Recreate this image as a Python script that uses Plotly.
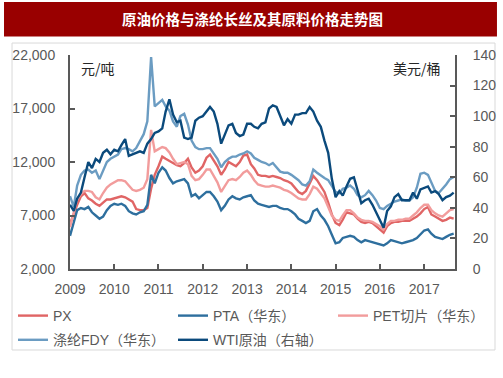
import plotly.graph_objects as go
import pandas as pd

months = pd.date_range("2009-01-01", "2017-09-01", freq="MS")

px_vals = [
    6200, 7200, 8000, 8800, 9100, 8600, 8400, 8100, 7900, 8200, 8500, 8500,
    8600, 8700, 8800, 8700, 8500, 8300, 7600, 7500, 7500, 7700, 9500, 10800,
    11600, 12500, 12300, 12100, 11900, 11700, 11600, 11900, 12300, 11500, 11000, 11200,
    11600, 12400, 12700, 12100, 11600, 10800, 11300, 12000, 11800, 11600, 12000, 12600,
    12700, 11800, 11400, 10800, 10700, 10700, 10600, 10700, 10600, 10500, 10300, 10200,
    10000, 9600, 9200, 9000, 9300, 10000, 10700, 10300, 9800, 9200, 8200, 7100,
    6300, 6100, 6600, 7300, 7200, 7100, 6700, 6400, 6300, 6400, 6300, 6000,
    5700, 5400, 6000, 6300, 6400, 6400, 6500, 6500, 6500, 6700, 6900, 7200,
    7600, 7800, 7100, 6900, 6700, 6500, 6600, 6800, 6700,
]
pta_vals = [
    5100, 6300, 7500, 7700, 7600, 7800, 7300, 7000, 6700, 6900, 7500, 7900,
    8100, 8000, 8100, 7900, 7400, 7200, 7100, 7300, 7400, 8000, 10800, 10000,
    11000, 11500, 11200, 10500, 10000, 10200, 10300, 10400, 10000, 8800, 9000, 8600,
    8900, 9200, 9200, 8800, 8300, 7500, 7900, 8500, 8800, 8600, 8500, 8700,
    8800, 8900, 8400, 8100, 8000, 7900, 7800, 7900, 7900, 7700, 7600, 7600,
    7400, 7100, 6700, 6500, 6300, 6500, 7400, 7600, 7000, 6600, 6000, 5200,
    4400, 4500, 4900, 5000, 5100, 5000, 4700, 4500, 4700, 4600, 4500, 4400,
    4300, 4200, 4400, 4700, 4600, 4500, 4400, 4500, 4600, 4700, 4900, 5200,
    5600, 5700, 5300, 5000, 4900, 4800, 5000, 5200, 5300,
]
pet_vals = [
    5900, 7300, 8500, 9000, 9300, 9300, 9200, 8700, 8500, 9100, 9600, 9900,
    10100, 10300, 10300, 10200, 9800, 9400, 9300, 9400, 9600, 10400, 15000, 13000,
    13200, 13400, 13300, 12900, 12300, 11800, 11900, 12000, 11800, 10700, 10300, 10400,
    10800, 11300, 11300, 10700, 10100, 9200, 9700, 10300, 10400, 10300, 10600, 11000,
    11200, 10800, 10300, 9900, 9800, 9700, 9700, 9800, 9700, 9600, 9400, 9300,
    9100, 8800, 8600, 8500, 8500, 9000, 9700, 9500, 9000, 8600, 7800, 7000,
    6600, 6500, 7000, 7500, 7500, 7200, 6800, 6600, 6500, 6500, 6400, 6200,
    6000, 5700, 6200, 6500, 6500, 6600, 6600, 6700, 6700, 7000, 7300, 7700,
    8000, 8000, 7500, 7200, 7000, 6900, 7200, 7500, 7600,
]
fdy_vals = [
    8800, 7800, 9800, 10800, 11200, 11300, 11000, 11200, 10400, 11200, 12000, 12300,
    12500, 12700, 13200, 13300, 13200, 13000, 13300, 14000, 14600, 15800, 21800, 17200,
    17500, 17800, 17200, 16800, 15800, 15300, 16300, 16500, 15500, 14000, 13400, 13200,
    13200, 13300, 13300, 12800, 12300, 11500, 12000, 12300, 12500, 12500, 12700, 12800,
    13000, 12800, 12400, 12200, 12000, 11900, 11700, 11900, 11500, 11100, 11000, 11000,
    10800, 10500, 10300, 9900, 9800, 10200, 11300, 11000, 10700, 10500, 10300, 9800,
    9200, 9100, 9500, 9600, 9800, 9500, 8900, 8700, 8900, 9300, 8900, 8400,
    7700, 7600, 7900, 8100, 8300, 8400, 8500, 8400, 8400, 8700, 9600, 10900,
    11000, 10800, 10100, 9300, 9100, 9500, 9900, 10400, 10600,
]
wti_vals = [
    42, 38, 46, 50, 60, 70, 66, 72, 70, 76, 78, 75,
    78, 77, 81, 85, 74, 75, 76, 77, 76, 82, 85, 89,
    90, 92, 103, 111, 101, 96, 97, 86, 85, 86, 97, 99,
    100, 103, 106, 103, 95, 82, 88, 94, 95, 89, 87, 88,
    95, 95, 93, 92, 95, 96, 105, 107, 106, 100, 94, 98,
    95, 101, 101, 102, 102, 106, 103, 97, 93, 84, 76, 59,
    47, 51, 48, 54, 59, 60, 51, 43, 45, 46, 42, 37,
    32, 27, 38, 41, 47, 49, 45, 45, 45, 50, 46, 52,
    53, 54, 50, 51, 49, 45, 47, 48, 50,
]

names = ["PX", "PTA（华东）", "PET切片（华东）", "涤纶FDY（华东）", "WTI原油（右轴）"]
colors = ["#E06565", "#2E6F9E", "#F29C9C", "#6B9CC2", "#0B4A7C"]
left_ticks = [2000, 7000, 12000, 17000, 22000]
right_ticks = [0, 20, 40, 60, 80, 100, 120, 140]

series = [px_vals, pta_vals, pet_vals, fdy_vals, wti_vals]
axes = ["y", "y", "y", "y", "y2"]
legend_of = ["legend", "legend2", "legend3", "legend", "legend2"]

fig = go.Figure()
for i, (name, vals, col, ax, lg) in enumerate(zip(names, series, colors, axes, legend_of)):
    fig.add_trace(go.Scatter(x=months, y=vals, name=name, mode="lines",
                             line=dict(color=col, width=2.4), yaxis=ax,
                             legend=lg, legendgroup=f"g{i}"))

axis_col = "#595959"
tickfont = dict(size=14, color="#595959", family="Liberation Sans, Arial, sans-serif")
legfont = dict(size=14, color="#595959", family="Liberation Sans, Noto Sans CJK SC, sans-serif")


def leg(xpix):
    return dict(orientation="v", xref="paper", yref="paper",
                x=(xpix - 70) / 385, y=(269 - 300) / 214,
                xanchor="left", yanchor="top", font=legfont,
                bgcolor="rgba(0,0,0,0)", tracegroupgap=3)


fig.update_layout(
    width=503, height=378,
    margin=dict(l=70, r=48, t=55, b=109, autoexpand=False),
    paper_bgcolor="white", plot_bgcolor="white",
    font=dict(family="Liberation Sans, Noto Sans CJK SC, sans-serif", color="#595959"),
    showlegend=True,
    legend=leg(13), legend2=leg(173), legend3=leg(333),
    xaxis=dict(type="date", range=["2009-01-01", "2017-09-12"],
               tickvals=[f"{y}-01-01" for y in range(2009, 2018)],
               ticktext=[str(y) for y in range(2009, 2018)],
               ticks="inside", ticklen=5, tickcolor=axis_col, tickwidth=1.5,
               showline=True, linecolor=axis_col, linewidth=2,
               showgrid=False, zeroline=False, tickfont=tickfont,
               ticklabelstandoff=6),
    yaxis=dict(range=[2000, 22000], tickvals=left_ticks,
               ticktext=[f"{v:,}" for v in left_ticks],
               ticks="inside", ticklen=5, tickcolor=axis_col, tickwidth=1.5,
               showline=True, linecolor=axis_col, linewidth=2,
               showgrid=False, zeroline=False, tickfont=tickfont,
               ticklabelstandoff=10),
    yaxis2=dict(range=[0, 140], tickvals=right_ticks,
                overlaying="y", side="right",
                ticks="inside", ticklen=5, tickcolor=axis_col, tickwidth=1.5,
                showline=True, linecolor=axis_col, linewidth=2,
                showgrid=False, zeroline=False, tickfont=tickfont,
                ticklabelstandoff=13),
)

# outer frame and title bar
fig.add_shape(type="rect", xref="paper", yref="paper",
              x0=-0.1506, x1=1.1039, y0=-0.3785, y1=1.056,
              line=dict(color="#D9D9D9", width=1), fillcolor="rgba(0,0,0,0)", layer="below")
fig.add_shape(type="rect", xref="paper", yref="paper",
              x0=-0.1714, x1=1.109, y0=1.0864, y1=1.2477,
              line=dict(width=0), fillcolor="#990000", layer="below")

fig.add_annotation(text="<b>原油价格与涤纶长丝及其原料价格走势图</b>",
                   xref="paper", yref="paper", x=(252 - 70) / 385, y=(269 - 19) / 214,
                   showarrow=False, xanchor="center", yanchor="middle",
                   font=dict(size=14.5, color="white", family="Noto Sans CJK SC"))
fig.add_annotation(text="元/吨", xref="paper", yref="paper",
                   x=(79 - 70) / 385, y=(269 - 68) / 214, showarrow=False,
                   xanchor="left", yanchor="middle",
                   font=dict(size=14, color="#262626", family="Noto Sans CJK SC"))
fig.add_annotation(text="美元/桶", xref="paper", yref="paper",
                   x=(443 - 70) / 385, y=(269 - 68) / 214, showarrow=False,
                   xanchor="right", yanchor="middle",
                   font=dict(size=14, color="#262626", family="Noto Sans CJK SC"))

fig.write_html("out.html", config={"displayModeBar": False},
               post_script="document.body.style.margin='0';")
